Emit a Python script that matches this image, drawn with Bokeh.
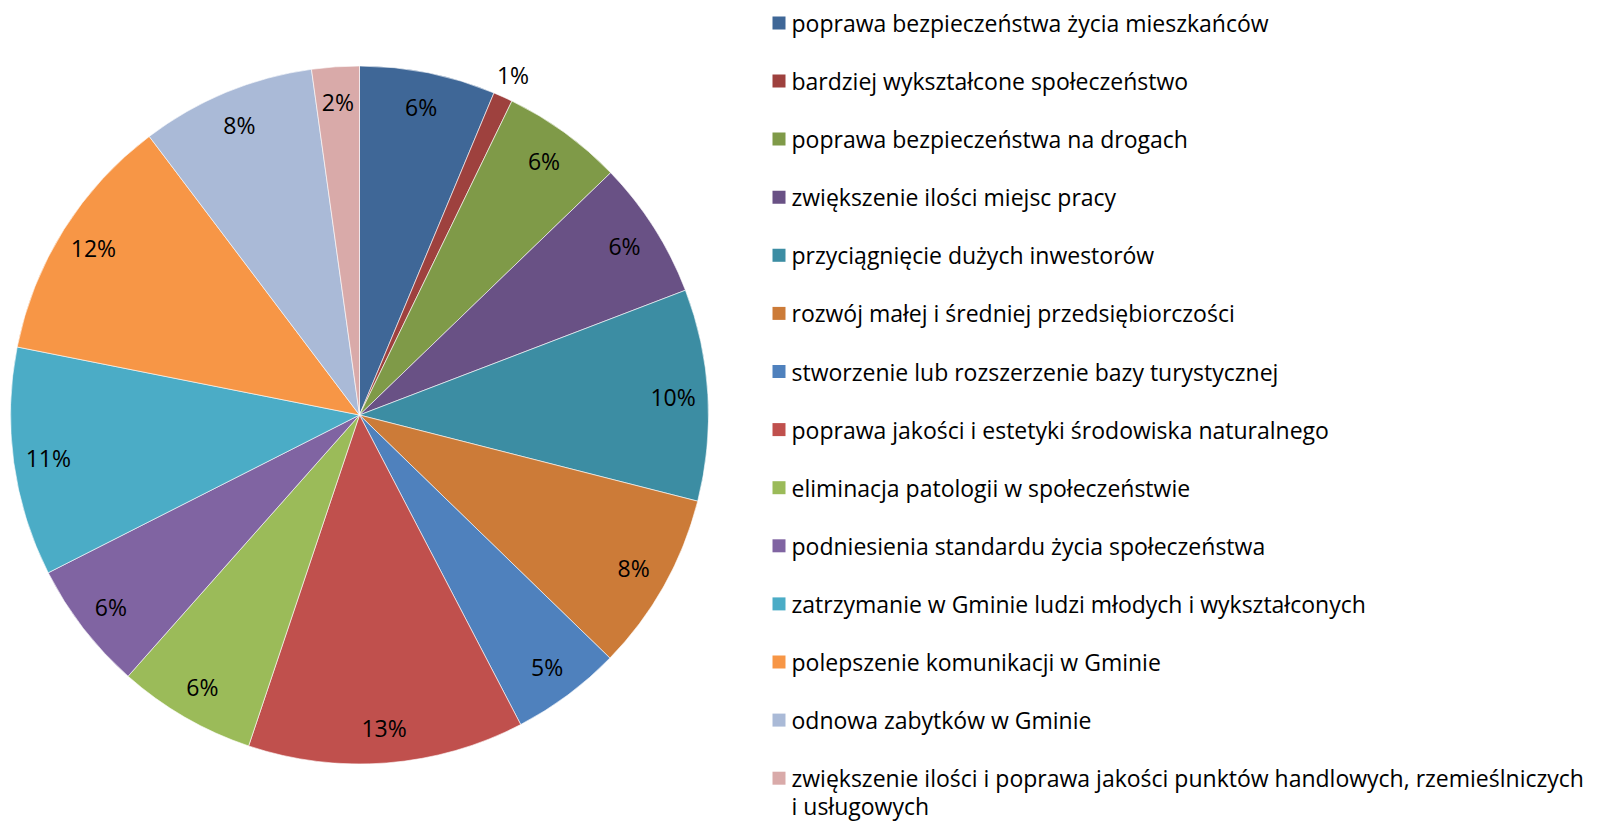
import math
from bokeh.plotting import figure
from bokeh.models import ColumnDataSource, Range1d
from bokeh.core.properties import value
from bokeh.embed import file_html
from bokeh.resources import INLINE

categories = [
    "poprawa bezpieczeństwa życia mieszkańców",
    "bardziej wykształcone społeczeństwo",
    "poprawa bezpieczeństwa na drogach",
    "zwiększenie ilości miejsc pracy",
    "przyciągnięcie dużych inwestorów",
    "rozwój małej i średniej przedsiębiorczości",
    "stworzenie lub rozszerzenie bazy turystycznej",
    "poprawa jakości i estetyki środowiska naturalnego",
    "eliminacja patologii w społeczeństwie",
    "podniesienia standardu życia społeczeństwa",
    "zatrzymanie w Gminie ludzi młodych i wykształconych",
    "polepszenie komunikacji w Gminie",
    "odnowa zabytków w Gminie",
    "zwiększenie ilości i poprawa jakości punktów handlowych, rzemieślniczych\ni usługowych",
]
shares = [6.3, 0.9, 5.6, 6.4, 9.8, 8.3, 5.1, 12.8, 6.4, 6.0, 10.6, 11.6, 8.1, 2.2]
colors = ["#3F6797", "#9E413E", "#7F9A48", "#695185", "#3C8DA3", "#CC7B38",
          "#4F81BD", "#C0504D", "#9BBB59", "#8064A2", "#4BACC6", "#F79646",
          "#AABAD7", "#D9AAA9"]

W, H = 1599, 823
FONT = "Open Sans"
FS = "23px"

p = figure(width=W, height=H, x_range=Range1d(0, W), y_range=Range1d(0, H),
           output_backend="svg", toolbar_location=None, min_border=0)
p.axis.visible = False
p.grid.visible = False
p.outline_line_color = None
p.background_fill_color = "white"
p.border_fill_color = "white"

cx, cy, R = 359, H - 414.5, 349
total = sum(shares)

starts, ends, lx, ly, ltxt = [], [], [], [], []
acc = 0.0
for v in shares:
    a0 = acc / total * 2 * math.pi
    acc += v
    a1 = acc / total * 2 * math.pi
    starts.append(math.pi / 2 - a1)
    ends.append(math.pi / 2 - a0)
    mid = math.pi / 2 - (a0 + a1) / 2
    pct = round(v / total * 100)
    r = R * (1.07 if pct < 2 else 0.9)
    lx.append(cx + r * math.cos(mid))
    ly.append(cy + r * math.sin(mid))
    ltxt.append(f"{pct}%")

src = ColumnDataSource(dict(start=starts, end=ends, color=colors))
p.wedge(x=cx, y=cy, radius=R, start_angle="start", end_angle="end",
        fill_color="color", line_color="white", line_width=0.6, source=src)

p.text(x=lx, y=ly, text=ltxt, text_font=value(FONT), text_font_size=FS,
       text_align="center", text_baseline="middle", text_color="#000000")

# legend
row0, step, lstep = 22.4, 58.1, 28
sq_x, sq_y = [], []
tx, ty, tt = [], [], []
for i, c in enumerate(categories):
    yc = row0 + step * i
    sq_x.append(778.5)
    sq_y.append(H - yc)
    for j, line in enumerate(c.split("\n")):
        tx.append(791)
        ty.append(H - (yc + j * lstep))
        tt.append(line)

p.rect(x=sq_x, y=sq_y, width=13, height=13, fill_color=colors, line_color=None)
p.text(x=tx, y=ty, text=tt, text_font=value(FONT), text_font_size=FS,
       text_align="left", text_baseline="middle", text_color="#000000")

open("out.html", "w").write(file_html(p, INLINE))
